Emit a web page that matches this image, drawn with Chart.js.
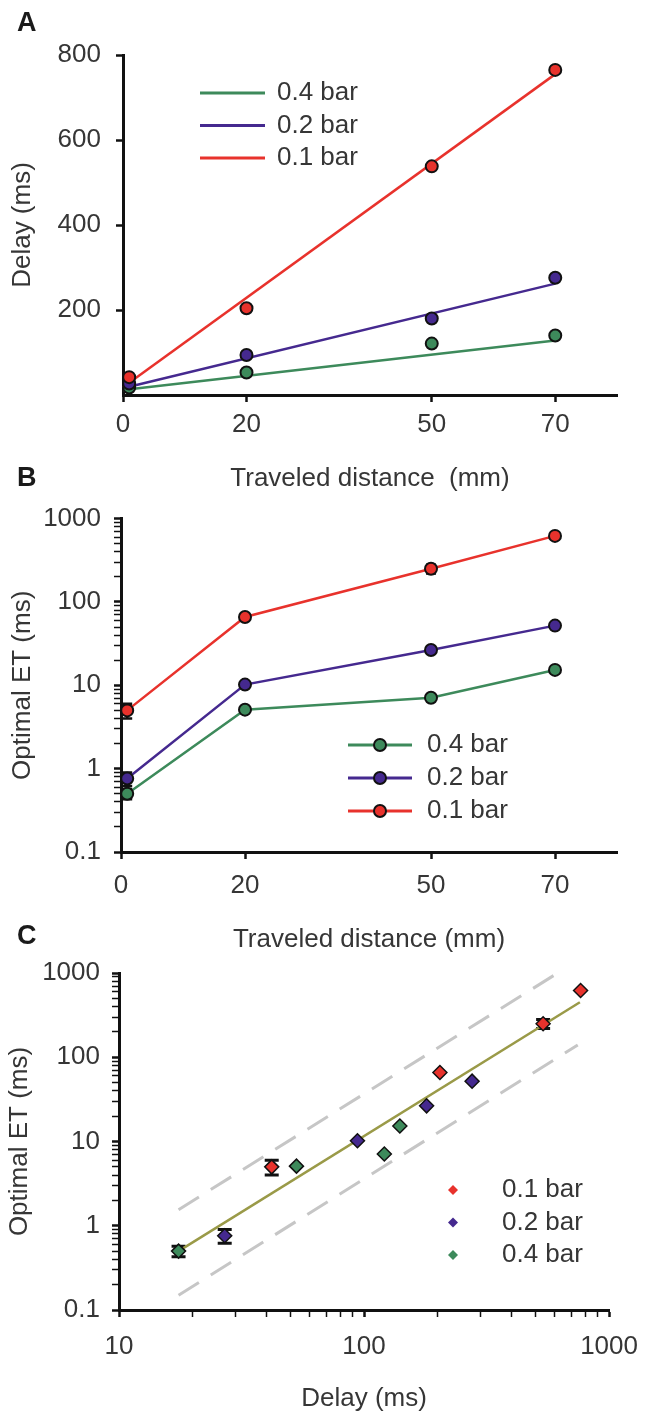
<!DOCTYPE html>
<html>
<head>
<meta charset="utf-8">
<title>Delay and optimal ET vs traveled distance</title>
<script src="https://cdn.jsdelivr.net/npm/chart.js@4.4.1/dist/chart.umd.min.js"></script>
<style>
  html, body { margin: 0; padding: 0; background: #fff; }
  #page { position: relative; width: 652px; height: 1423px; overflow: hidden; }
  canvas { position: absolute; left: 0; }
  .tag { position: absolute; left: 17px; font: bold 27px "Liberation Sans", Arial, sans-serif; line-height: 1; color: #1a1a1a; }
</style>
</head>
<body>
<div id="page">
  <canvas id="chartA" width="652" height="500" style="top:0"></canvas>
  <canvas id="chartB" width="652" height="465" style="top:490px"></canvas>
  <canvas id="chartC" width="652" height="493" style="top:930px"></canvas>
  <div class="tag" style="top:9px">A</div>
  <div class="tag" style="top:464px">B</div>
  <div class="tag" style="top:922px">C</div>
</div>
<script>
// ========== DATA ==========
// traveled distance (mm); the "0" points sit just right of the axis
const distance = [1, 20, 50, 70];
const distTicks = [0, 20, 50, 70];

// panel A: delay (ms)
const delay01 = [42, 204, 538, 765];
const delay02 = [27, 94, 180, 276];
const delay04 = [17.5, 53, 121, 140];
const delayTicks = [200, 400, 600, 800];

// panel A: fitted lines, read at both ends
const fitDist = [0, 70];
const fitDelay01 = [18, 755];
const fitDelay02 = [16, 262];
const fitDelay04 = [12, 128];

// panels B / C: optimal ET (ms) and error sizes
const et01 = [5.0, 66, 250, 620];
const et02 = [0.76, 10.2, 26.5, 52];
const et04 = [0.5, 5.1, 7.1, 15.3];
const etErr01 = [1.0, 0, 30, 0];
const etErr02 = [0.14, 0, 0, 0];
const etErr04 = [0.07, 0, 0, 0];
const etMajors = [0.1, 1, 10, 100, 1000];

// panel C: power-law fit and dashed bounds
const fitCDelay = [17.5, 760];
const fitCET = [0.5, 450];
const upperDelay = [17.5, 600];
const upperET = [1.55, 950];
const lowerDelay = [17.5, 745];
const lowerET = [0.15, 140];
const delayMajors = [10, 100, 1000];

// ========== STYLE ==========
const FONT = '"Liberation Sans", Arial, Helvetica, sans-serif';
const FONT_SIZE = 26;
const RED = '#e8322c';
const PURPLE = '#45298f';
const GREEN = '#3d8a5b';
const OLIVE = '#9a9a48';
const DASH = '#c6c6c6';
const INK = '#111';
const TEXT = '#363636';

Chart.defaults.font.family = FONT;
Chart.defaults.font.size = FONT_SIZE;
Chart.defaults.color = TEXT;

const xy = (xs, ys) => xs.map((x, i) => ({ x, y: ys[i] }));

// majors plus 2..9 of every decade, for the log axes
function withMinors(majors) {
  const out = [];
  majors.forEach((m, i) => {
    out.push(m);
    if (i < majors.length - 1) {
      for (let k = 2; k <= 9; k++) out.push(m * k);
    }
  });
  return out;
}

function axis(extra) {
  return Object.assign({
    grid: { display: true, drawOnChartArea: false, drawTicks: true, tickLength: 7, tickColor: INK, tickWidth: 2.5 },
    border: { display: true, color: INK, width: 3 },
  }, extra);
}

// legend drawn inside the plot area
const insideLegend = {
  id: 'insideLegend',
  afterDatasetsDraw(chart, args, opts) {
    if (!opts.items) return;
    const ctx = chart.ctx;
    ctx.save();
    ctx.font = FONT_SIZE + 'px ' + FONT;
    ctx.textBaseline = 'middle';
    ctx.textAlign = 'left';
    opts.items.forEach((di, row) => {
      const ds = chart.data.datasets[di];
      const y = opts.y + row * opts.rowGap;
      if (opts.lineFrom != null) {
        ctx.strokeStyle = ds.borderColor;
        ctx.lineWidth = 3;
        ctx.beginPath();
        ctx.moveTo(opts.lineFrom, y);
        ctx.lineTo(opts.lineTo, y);
        ctx.stroke();
      }
      if (opts.markerX != null) {
        ctx.fillStyle = ds.pointBackgroundColor;
        ctx.strokeStyle = INK;
        ctx.lineWidth = opts.markerBorder;
        Chart.helpers.drawPoint(ctx, {
          pointStyle: opts.markerStyle, radius: opts.markerRadius,
          borderWidth: opts.markerBorder, rotation: 0
        }, opts.markerX, y);
      }
      ctx.fillStyle = TEXT;
      ctx.fillText(ds.label, opts.textX, y);
    });
    ctx.restore();
  }
};

// vertical error bars with caps
const errorBars = {
  id: 'errorBars',
  beforeDatasetsDraw(chart, args, opts) {
    const ctx = chart.ctx;
    const yScale = chart.scales.y;
    ctx.save();
    ctx.strokeStyle = INK;
    ctx.lineWidth = opts.width || 2.5;
    const c = opts.cap || 6;
    chart.data.datasets.forEach((ds, di) => {
      if (!ds.errors) return;
      const meta = chart.getDatasetMeta(di);
      ds.data.forEach((p, i) => {
        const e = ds.errors[i];
        if (!e) return;
        const x = meta.data[i].x;
        const yTop = yScale.getPixelForValue(p.y + e);
        const yBot = yScale.getPixelForValue(p.y - e);
        ctx.beginPath();
        ctx.moveTo(x, yTop); ctx.lineTo(x, yBot);
        ctx.moveTo(x - c, yTop); ctx.lineTo(x + c, yTop);
        ctx.moveTo(x - c, yBot); ctx.lineTo(x + c, yBot);
        ctx.stroke();
      });
    });
    ctx.restore();
  }
};

const baseOptions = {
  responsive: false,
  animation: false,
  devicePixelRatio: 1,
  events: [],
};

function circles(label, xs, ys, color, showLine) {
  return {
    label, data: xy(xs, ys), showLine: !!showLine,
    borderColor: color, borderWidth: 2.5,
    pointRadius: 6, pointBackgroundColor: color,
    pointBorderColor: INK, pointBorderWidth: 2,
    clip: false,
  };
}

function plainLine(label, xs, ys, color, width, dash) {
  return {
    label, data: xy(xs, ys), showLine: true,
    borderColor: color, borderWidth: width, borderDash: dash || [],
    pointRadius: 0, clip: false,
  };
}

// ========== PANEL A ==========
new Chart(document.getElementById('chartA'), {
  type: 'scatter',
  data: {
    datasets: [
      circles('0.1 bar', distance, delay01, RED),
      circles('0.2 bar', distance, delay02, PURPLE),
      circles('0.4 bar', distance, delay04, GREEN),
      plainLine('0.1 bar', fitDist, fitDelay01, RED, 2.5),
      plainLine('0.2 bar', fitDist, fitDelay02, PURPLE, 2.5),
      plainLine('0.4 bar', fitDist, fitDelay04, GREEN, 2.5),
    ]
  },
  options: {
    ...baseOptions,
    layout: { padding: { top: 55, right: 35, bottom: 0, left: 0 } },
    scales: {
      x: axis({
        type: 'linear', min: 0, max: 80,
        afterBuildTicks: s => { s.ticks = distTicks.map(v => ({ value: v })); },
        afterFit: s => { s.height = 105; },
        ticks: { color: TEXT, padding: 7, autoSkip: false, maxRotation: 0 },
        title: { display: true, text: 'Traveled distance  (mm)', color: TEXT, padding: { top: 0, bottom: 6 } },
      }),
      y: axis({
        type: 'linear', min: 0, max: 800,
        afterBuildTicks: s => { s.ticks = delayTicks.map(v => ({ value: v })); },
        afterFit: s => { s.width = 123; },
        ticks: { color: TEXT, padding: 15 },
        title: { display: true, text: 'Delay (ms)', color: TEXT, padding: { top: 7, bottom: 0 } },
      }),
    },
    plugins: {
      legend: { display: false },
      tooltip: { enabled: false },
      insideLegend: { items: [5, 4, 3], y: 93, rowGap: 32.5, lineFrom: 200, lineTo: 265, textX: 277 },
    }
  },
  plugins: [insideLegend]
});

// ========== PANEL B ==========
const etTicks = withMinors(etMajors);

new Chart(document.getElementById('chartB'), {
  type: 'scatter',
  data: {
    datasets: [
      Object.assign(circles('0.1 bar', distance, et01, RED, true), { errors: etErr01 }),
      Object.assign(circles('0.2 bar', distance, et02, PURPLE, true), { errors: etErr02 }),
      Object.assign(circles('0.4 bar', distance, et04, GREEN, true), { errors: etErr04 }),
    ]
  },
  options: {
    ...baseOptions,
    layout: { padding: { top: 25, right: 35, bottom: 0, left: 0 } },
    scales: {
      x: axis({
        type: 'linear', min: 0, max: 80,
        afterBuildTicks: s => { s.ticks = distTicks.map(v => ({ value: v })); },
        afterFit: s => { s.height = 103; },
        ticks: { color: TEXT, padding: 11, autoSkip: false, maxRotation: 0 },
        title: { display: true, text: 'Traveled distance (mm)', color: TEXT, padding: { top: 0, bottom: 0 } },
      }),
      y: axis({
        type: 'logarithmic', min: 0.1, max: 1000,
        afterBuildTicks: s => { s.ticks = etTicks.map(v => ({ value: v })); },
        afterFit: s => { s.width = 121; },
        grid: {
          display: true, drawOnChartArea: false, tickLength: 7, tickColor: INK,
          tickWidth: c => (etMajors.includes(c.tick.value) ? 2.5 : 1.5)
        },
        ticks: { color: TEXT, padding: 13, autoSkip: false, callback: v => (etMajors.includes(v) ? String(v) : '') },
        title: { display: true, text: 'Optimal ET (ms)', color: TEXT, padding: { top: 7, bottom: 0 } },
      }),
    },
    plugins: {
      legend: { display: false },
      tooltip: { enabled: false },
      errorBars: { width: 2.5, cap: 5 },
      insideLegend: {
        items: [2, 1, 0], y: 255, rowGap: 33, lineFrom: 348, lineTo: 412,
        markerX: 380, markerStyle: 'circle', markerRadius: 6, markerBorder: 2, textX: 427
      },
    }
  },
  plugins: [errorBars, insideLegend]
});

// ========== PANEL C ==========
const delayLogTicks = withMinors(delayMajors);

function diamonds(label, xs, ys, color, errs) {
  return {
    label, data: xy(xs, ys), showLine: false, errors: errs,
    borderColor: color, pointStyle: 'rectRot',
    pointRadius: 7, pointBackgroundColor: color,
    pointBorderColor: INK, pointBorderWidth: 1.5,
    clip: false,
  };
}

new Chart(document.getElementById('chartC'), {
  type: 'scatter',
  data: {
    datasets: [
      diamonds('0.1 bar', delay01, et01, RED, etErr01),
      diamonds('0.2 bar', delay02, et02, PURPLE, etErr02),
      diamonds('0.4 bar', delay04, et04, GREEN, etErr04),
      plainLine('fit', fitCDelay, fitCET, OLIVE, 2.5),
      plainLine('upper', upperDelay, upperET, DASH, 3, [24, 14]),
      plainLine('lower', lowerDelay, lowerET, DASH, 3, [24, 14]),
    ]
  },
  options: {
    ...baseOptions,
    layout: { padding: { top: 43, right: 37, bottom: 0, left: 0 } },
    scales: {
      x: axis({
        type: 'logarithmic', min: 10, max: 1000,
        afterBuildTicks: s => { s.ticks = delayLogTicks.map(v => ({ value: v })); },
        afterFit: s => { s.height = 113; },
        grid: {
          display: true, drawOnChartArea: false, tickLength: 7, tickColor: INK,
          tickWidth: c => (delayMajors.includes(c.tick.value) ? 2.5 : 1.5)
        },
        ticks: { color: TEXT, padding: 14, autoSkip: false, maxRotation: 0, callback: v => (delayMajors.includes(v) ? String(v) : '') },
        title: { display: true, text: 'Delay (ms)', color: TEXT, padding: { top: 0, bottom: 9 } },
      }),
      y: axis({
        type: 'logarithmic', min: 0.1, max: 1000,
        afterBuildTicks: s => { s.ticks = etTicks.map(v => ({ value: v })); },
        afterFit: s => { s.width = 119; },
        grid: {
          display: true, drawOnChartArea: false, tickLength: 7, tickColor: INK,
          tickWidth: c => (etMajors.includes(c.tick.value) ? 2.5 : 1.5)
        },
        ticks: { color: TEXT, padding: 12, autoSkip: false, callback: v => (etMajors.includes(v) ? String(v) : '') },
        title: { display: true, text: 'Optimal ET (ms)', color: TEXT, padding: { top: 4, bottom: 0 } },
      }),
    },
    plugins: {
      legend: { display: false },
      tooltip: { enabled: false },
      errorBars: { width: 3, cap: 7 },
      insideLegend: {
        items: [0, 1, 2], y: 260, rowGap: 32.5,
        markerX: 453, markerStyle: 'rectRot', markerRadius: 5, markerBorder: 0, textX: 502
      },
    }
  },
  plugins: [errorBars, insideLegend]
});
</script>
</body>
</html>
